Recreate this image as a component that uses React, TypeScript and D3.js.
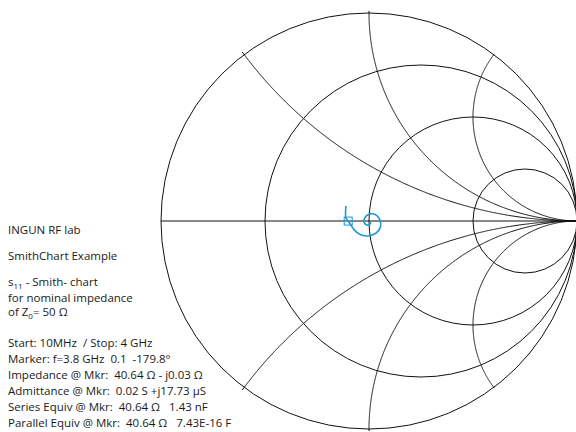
import React from "react";
import * as d3 from "d3";

// Smith chart grid values (normalized impedance)
const resistanceCircles = [0, 1 / 3, 1, 3];
const reactanceArcs = [0.5, 1, 2, -0.5, -1, -2];

// s11 trace, reflection coefficient (real, imaginary), 10 MHz -> 4 GHz
const traceRe = [0.008, 0.003, -0.013, -0.024, -0.021, -0.005, 0.019, 0.04, 0.053, 0.056, 0.043, 0.019, -0.013, -0.045, -0.069, -0.088, -0.1, -0.111, -0.111];
const traceIm = [-0.005, -0.018, -0.018, -0.005, 0.014, 0.03, 0.035, 0.024, 0.003, -0.024, -0.05, -0.066, -0.072, -0.064, -0.045, -0.018, -0.0003, 0.016, 0.072];

// marker at 3.8 GHz: |Γ| = 0.1, angle -179.8°
const markerMag = 0.1;
const markerAngleDeg = -179.8;

const headerLines = ["INGUN RF lab", "SmithChart Example"];
const infoLines = [
  "Start: 10MHz  / Stop: 4 GHz",
  "Marker: f=3.8 GHz  0.1  -179.8°",
  "Impedance @ Mkr:  40.64 Ω - j0.03 Ω",
  "Admittance @ Mkr:  0.02 S +j17.73 μS",
  "Series Equiv @ Mkr:  40.64 Ω   1.43 nF",
  "Parallel Equiv @ Mkr:  40.64 Ω   7.43E-16 F",
];

const gammaOf = (r: number, x: number): [number, number] => {
  const den = (r + 1) * (r + 1) + x * x;
  return [(r * r - 1 + x * x) / den, (2 * x) / den];
};

export default function App() {
  const W = 576;
  const H = 432;
  const cx = 369;
  const cy = 221;
  const R = 208;
  const xs = d3.scaleLinear().domain([-1, 1]).range([cx - R, cx + R]);
  const ys = d3.scaleLinear().domain([-1, 1]).range([cy + R, cy - R]);
  const len = d3.scaleLinear().domain([0, 1]).range([0, R]);

  const line = d3
    .line<[number, number]>()
    .x((d) => xs(d[0]))
    .y((d) => ys(d[1]));

  const rSamples = [-0.01, ...d3.range(0, 0.9995, 0.0025).map((u) => u / (1 - u))];
  const arcPaths = reactanceArcs.map((x) => {
    const pts = rSamples.map((r) => gammaOf(r, x));
    pts.push([1, 0]);
    return line(pts) as string;
  });

  const traceLine = d3
    .line<[number, number]>()
    .x((d) => xs(d[0]))
    .y((d) => ys(d[1]))
    .curve(d3.curveCatmullRom.alpha(0.5));
  const tracePts: [number, number][] = traceRe.map((v, i) => [v, traceIm[i]]);
  const tracePath = traceLine(tracePts) as string;

  const mRe = markerMag * Math.cos((markerAngleDeg * Math.PI) / 180);
  const mIm = markerMag * Math.sin((markerAngleDeg * Math.PI) / 180);

  const blue = "#1b9ad8";
  const grid = "#111";
  const font = "'Open Sans', sans-serif";
  const fs = 11.5;
  const textColor = "#1a1a1a";
  const pre = { whiteSpace: "pre" as const };

  return (
    <svg
      width={W}
      height={H}
      style={{ position: "absolute", left: 0, top: 0 }}
      xmlns="http://www.w3.org/2000/svg"
    >
      <rect width={W} height={H} fill="#fff" />
      <g fill="none" stroke={grid} strokeWidth={1}>
        {resistanceCircles.map((r, i) => (
          <circle key={i} cx={xs(r / (r + 1))} cy={ys(0)} r={len(1 / (r + 1))} />
        ))}
        <line x1={xs(-1)} y1={ys(0)} x2={xs(1)} y2={ys(0)} />
        {arcPaths.map((d, i) => (
          <path key={i} d={d} />
        ))}
      </g>
      <path d={tracePath} fill="none" stroke={blue} strokeWidth={1.6} />
      <rect
        x={xs(mRe) - 4}
        y={ys(mIm) - 4}
        width={8}
        height={8}
        fill="none"
        stroke={blue}
        strokeWidth={1}
      />
      <g fontFamily={font} fontSize={fs} fill={textColor}>
        {headerLines.map((t, i) => (
          <text key={i} x={8} y={234 + i * 26} style={pre}>
            {t}
          </text>
        ))}
        <text x={8} y={286} style={pre}>
          s<tspan fontSize={8} dy={2.5}>11</tspan>
          <tspan dy={-2.5}> - Smith- chart</tspan>
        </text>
        <text x={8} y={302} style={pre}>for nominal impedance</text>
        <text x={8} y={316} style={pre}>
          of Z<tspan fontSize={8} dy={2.5}>0</tspan>
          <tspan dy={-2.5}>= 50 Ω</tspan>
        </text>
        {infoLines.map((t, i) => (
          <text key={i} x={8} y={347 + i * 16} style={pre}>
            {t}
          </text>
        ))}
      </g>
    </svg>
  );
}
